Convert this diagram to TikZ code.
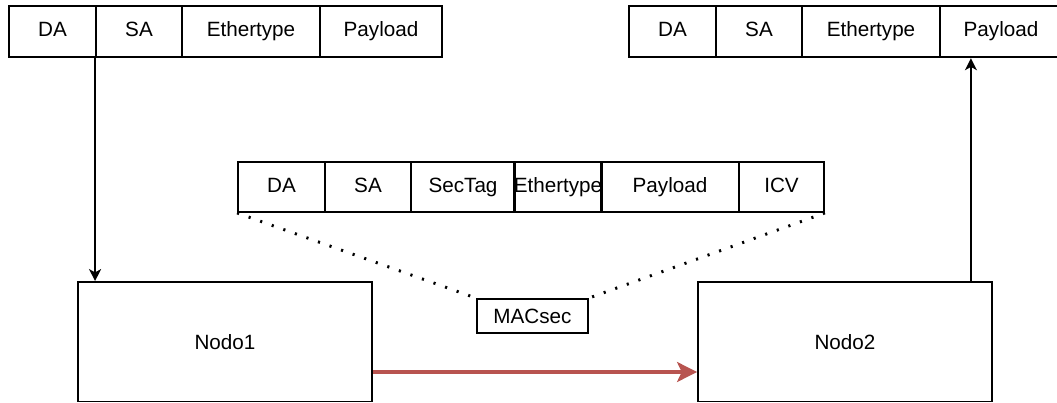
\documentclass[tikz,border=0pt]{standalone}
\usepackage{fontspec}
\setmainfont{Liberation Sans}
\usetikzlibrary{arrows.meta,calc}
\definecolor{linkred}{HTML}{B85450}
\tikzset{
  field/.style={draw, line width=1.4pt, inner sep=0pt, text height=11pt, text depth=3pt},
  box/.style={draw, line width=1.4pt, inner sep=0pt},
  flow/.style={line width=1.2pt, -{Stealth[length=9pt, width=9pt, inset=2.5pt]}},
  secflow/.style={line width=2.4pt, color=linkred, -{Stealth[length=15pt, width=15pt, inset=3.5pt]}},
  tie/.style={line width=2.2pt, dash pattern=on 1.6pt off 7.6pt},
}
\begin{document}
\begin{tikzpicture}[x=0.75pt, y=-0.75pt, font=\fontsize{15.5}{18}\selectfont]
\useasboundingbox (0,0) rectangle (1057,403);
% plain frame leaving Nodo1
\node[field, minimum width=65.25pt, minimum height=38.7pt] (a1) at (52.5,31.5) {DA};
\node[field, minimum width=64.5pt, minimum height=38.7pt] (a2) at (139,31.5) {SA};
\node[field, minimum width=103.5pt, minimum height=38.7pt] (a3) at (251,31.5) {Ethertype};
\node[field, minimum width=91.5pt, minimum height=38.7pt] (a4) at (381,31.5) {Payload};
% plain frame delivered by Nodo2
\node[field, minimum width=65.25pt, minimum height=38.7pt] (b1) at (672.5,31.5) {DA};
\node[field, minimum width=64.5pt, minimum height=38.7pt] (b2) at (759,31.5) {SA};
\node[field, minimum width=103.5pt, minimum height=38.7pt] (b3) at (871,31.5) {Ethertype};
\node[field, minimum width=91.5pt, minimum height=38.7pt] (b4) at (1001,31.5) {Payload};
% MACsec frame
\node[field, minimum width=65.25pt, minimum height=37.5pt] (m1) at (281.5,187) {DA};
\node[field, minimum width=64.5pt, minimum height=37.5pt] (m2) at (368,187) {SA};
\node[field, minimum width=78pt, minimum height=37.5pt] (m3) at (463,187) {SecTag};
\node[field, minimum width=64.5pt, minimum height=37.5pt] (m4) at (558,187) {Ethertype};
\node[field, minimum width=103.5pt, minimum height=37.5pt] (m5) at (670,187) {Payload};
\node[field, minimum width=63.75pt, minimum height=37.5pt] (m6) at (781.5,187) {ICV};
% nodes
\node[box, minimum width=220.5pt, minimum height=89.6pt] (n1) at (225,341.75) {Nodo1};
\node[box, minimum width=220.5pt, minimum height=89.6pt] (n2) at (845,341.75) {Nodo2};
\node[box, minimum width=83.25pt, minimum height=25.5pt] (mac) at (532.5,316) {MACsec};
% connectors
\draw[flow] (a2.south west) -- (a2.south west |- n1.north);
\coordinate (up) at ($(n2.north east)+(-22,0)$);
\draw[flow] (up) -- (up |- b4.south);
\coordinate (tx) at ($(n1.east)+(0,30.25)$);
\draw[secflow] (tx) -- (tx -| n2.west);
\draw[tie] (m1.south west) -- (mac.north west);
\draw[tie] (m6.south east) -- (mac.north east);
\end{tikzpicture}
\end{document}
